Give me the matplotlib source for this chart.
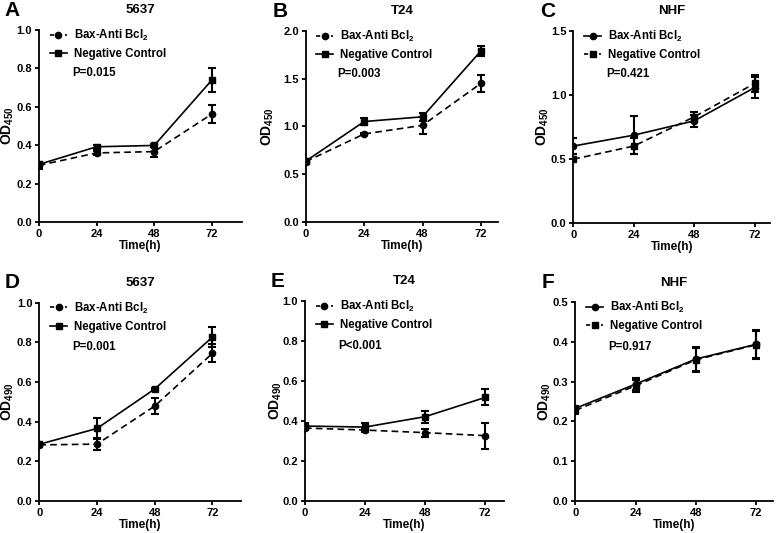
import numpy as np
import matplotlib
matplotlib.use("Agg")
import matplotlib.pyplot as plt
from matplotlib.lines import Line2D

plt.rcParams['font.family'] = ['Liberation Sans', 'DejaVu Sans']
plt.rcParams['font.weight'] = 'bold'
plt.rcParams['mathtext.fontset'] = 'custom'
plt.rcParams['mathtext.rm'] = 'Liberation Sans:bold'
plt.rcParams['mathtext.bf'] = 'Liberation Sans:bold'
plt.rcParams['mathtext.default'] = 'bf'

# data
hours = [0, 24, 48, 72]
letters = ['A', 'B', 'C', 'D', 'E', 'F']
titles = ['5637', 'T24', 'NHF', '5637', 'T24', 'NHF']
ylabels = ['OD$_{450}$', 'OD$_{450}$', 'OD$_{450}$', 'OD$_{490}$', 'OD$_{490}$', 'OD$_{490}$']
pvals = ['P=0.015', 'P=0.003', 'P=0.421', 'P=0.001', 'P<0.001', 'P=0.917']

bax_mean = [[0.295, 0.36, 0.367, 0.563],
            [0.63, 0.92, 1.01, 1.45],
            [0.60, 0.685, 0.797, 1.057],
            [0.283, 0.287, 0.479, 0.745],
            [0.365, 0.355, 0.342, 0.327],
            [0.233, 0.294, 0.357, 0.394]]
bax_err = [[0.02, 0.01, 0.03, 0.045],
           [0.02, 0.015, 0.09, 0.09],
           [0.06, 0.15, 0.045, 0.08],
           [0.01, 0.03, 0.04, 0.045],
           [0.01, 0.01, 0.02, 0.065],
           [0.005, 0.015, 0.03, 0.035]]
nc_mean = [[0.30, 0.392, 0.399, 0.74],
           [0.635, 1.05, 1.10, 1.79],
           [0.497, 0.60, 0.828, 1.089],
           [0.286, 0.366, 0.565, 0.827],
           [0.375, 0.37, 0.422, 0.518],
           [0.228, 0.29, 0.355, 0.393]]
nc_err = [[0.01, 0.01, 0.01, 0.062],
          [0.02, 0.04, 0.04, 0.05],
          [0.01, 0.065, 0.04, 0.065],
          [0.01, 0.055, 0.005, 0.05],
          [0.015, 0.02, 0.03, 0.04],
          [0.01, 0.015, 0.03, 0.035]]

yticks = [np.arange(0, 1.01, 0.2), np.arange(0, 2.01, 0.5), np.arange(0, 1.51, 0.5),
          np.arange(0, 1.01, 0.2), np.arange(0, 1.01, 0.2), np.arange(0, 0.51, 0.1)]
xmax = [84.5, 79, 78.2, 83.8, 79.6, 78.8]
bax_solid = [False, False, True, False, False, True]

# axes boxes [left, bottom, width, height]
boxes = [[0.050, 0.5835, 0.261, 0.360],
         [0.393, 0.584, 0.247, 0.358],
         [0.737, 0.582, 0.253, 0.360],
         [0.0505, 0.060, 0.259, 0.372],
         [0.392, 0.060, 0.256, 0.375],
         [0.7395, 0.060, 0.254, 0.373]]
# distance (px) from y axis to the right side of the y label
ylab_gap = [23, 30, 22, 23, 21, 22]

DASH = (4, 2.5)

fig = plt.figure(figsize=(7.78, 5.33), dpi=100)

for i in range(6):
    ax = fig.add_axes(boxes[i])
    ls_b = '-' if bax_solid[i] else '--'
    ls_n = '--' if bax_solid[i] else '-'
    ax.errorbar(hours, bax_mean[i], yerr=bax_err[i], color='black', ls=ls_b, lw=1.2,
                marker='o', ms=4.5, capsize=2.8, elinewidth=1.5, capthick=1.5,
                dashes=DASH if ls_b == '--' else (None, None))
    ax.errorbar(hours, nc_mean[i], yerr=nc_err[i], color='black', ls=ls_n, lw=1.2,
                marker='s', ms=5, capsize=2.8, elinewidth=1.5, capthick=1.5,
                dashes=DASH if ls_n == '--' else (None, None))
    ax.set_xlim(0, xmax[i])
    ax.set_ylim(0, yticks[i][-1])
    ax.set_xticks(hours)
    ax.set_yticks(yticks[i])
    ax.set_yticklabels(['%.1f' % v for v in yticks[i]])
    ax.spines['top'].set_visible(False)
    ax.spines['right'].set_visible(False)
    ax.spines['left'].set_linewidth(1.3)
    ax.spines['bottom'].set_linewidth(1.3)
    ax.tick_params(direction='out', width=1.3, length=3, labelsize=8, pad=2)
    for lab in ax.get_xticklabels() + ax.get_yticklabels():
        lab.set_fontweight('bold')
    ax.set_xlabel('Time(h)', fontsize=8.5, fontweight='bold', labelpad=1)
    ax.set_ylabel(ylabels[i], fontsize=10, fontweight='bold')
    w_px = boxes[i][2] * 778
    ax.yaxis.set_label_coords(-ylab_gap[i] / w_px, 0.5)
    ax.set_title(titles[i], fontsize=9.5, fontweight='bold', pad=12)

    h_b = Line2D([], [], color='black', lw=1.2, ls=ls_b, marker='o', ms=4.5)
    h_n = Line2D([], [], color='black', lw=1.2, ls=ls_n, marker='s', ms=5)
    if ls_b == '--':
        h_b.set_dashes((2.5, 2))
    else:
        h_n.set_dashes((2.5, 2))
    leg = ax.legend([h_b, h_n], ['Bax-Anti Bcl$_2$', 'Negative Control'],
                    loc='upper left', bbox_to_anchor=(0.03, 1.035), frameon=False,
                    fontsize=8.3, handlelength=1.5, handletextpad=0.6,
                    labelspacing=0.45, borderaxespad=0)
    for t in leg.get_texts():
        t.set_fontweight('bold')
    ax.text(0.165, 0.775, pvals[i], transform=ax.transAxes, fontsize=8.3,
            fontweight='bold', va='center', ha='left')
    ax.text(-0.17, 1.10, letters[i], transform=ax.transAxes, fontsize=15,
            fontweight='bold', va='center', ha='left')

fig.savefig('out.png', dpi=100)
